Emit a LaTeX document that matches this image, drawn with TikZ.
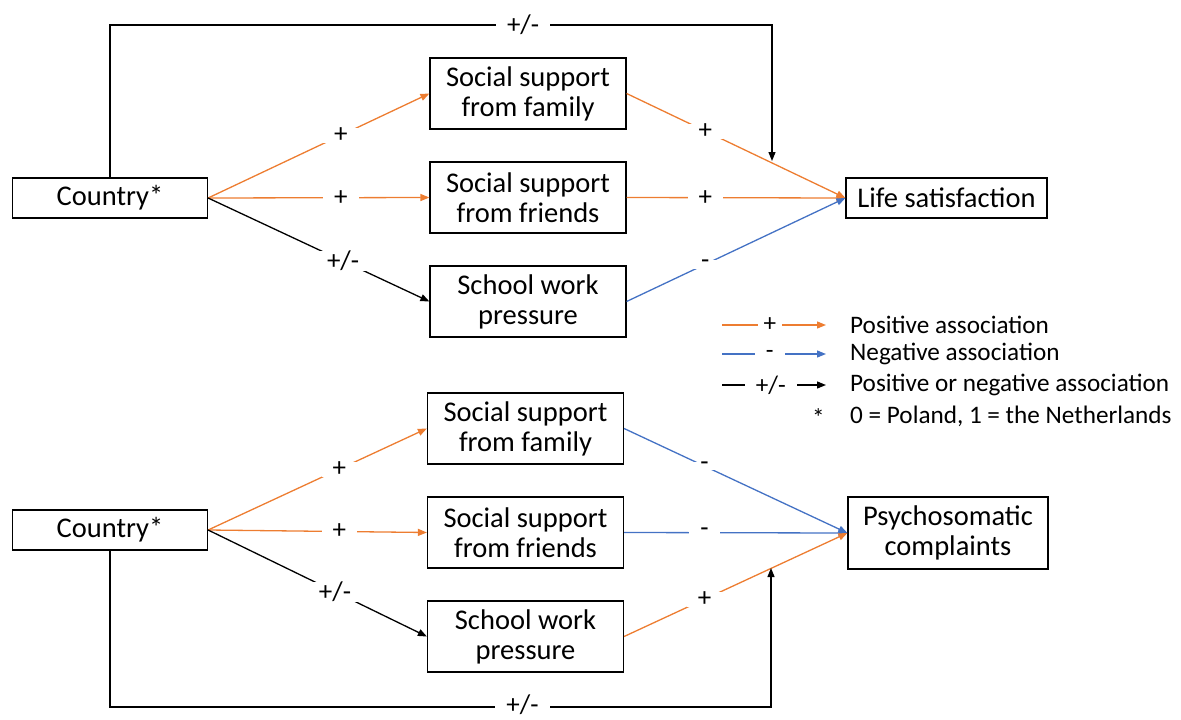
\documentclass[tikz,border=0pt]{standalone}
\usepackage{fontspec}
\setmainfont{Carlito}
\usetikzlibrary{arrows.meta}
\definecolor{ora}{HTML}{ED7D31}
\definecolor{blu}{HTML}{4472C4}
\begin{document}
\begin{tikzpicture}[x=1pt,y=-1pt,
 box/.style={draw=black, line width=1.2pt, minimum width=196pt, minimum height=71pt, align=center, inner sep=0pt, font=\fontsize{28.5}{30}\selectfont},
 sbox/.style={box, minimum height=40pt},
 arr/.style={line width=1.3pt, -{Triangle[length=9pt,width=7pt]}},
 lab/.style={fill=white, inner xsep=11pt, inner ysep=0pt, text=black, font=\fontsize{27}{30}\selectfont},
 txt/.style={anchor=west, inner sep=0pt, font=\fontsize{25.2}{30}\selectfont},
]
\useasboundingbox (0,0) rectangle (1181,720);
% top section
\node[sbox, minimum width=195pt] (c1) at (110,198) {Country*};
\node[box] (f1) at (528,93.5) {Social support\\from family};
\node[box] (r1) at (528,197.5) {Social support\\from friends};
\node[box] (p1) at (528,301.5) {School work\\pressure};
\node[sbox, minimum width=201pt] (l1) at (946.5,198) {Life satisfaction};
\coordinate (t1) at (772,161);

\draw[arr, ora] (c1.east) -- node[lab, pos=0.6]{+} (f1.west);
\draw[arr, ora] (c1.east) -- node[lab, pos=0.6]{+} (r1.west);
\draw[arr, black] (c1.east) -- node[lab, pos=0.61]{+/-} (p1.west);
\draw[arr, ora] (f1.east) -- node[lab, pos=0.36]{+} (l1.west);
\draw[arr, ora] (r1.east) -- node[lab, pos=0.36]{+} (l1.west);
\draw[arr, blu] (p1.east) -- node[lab, pos=0.36]{-} (l1.west);
\draw[arr, black] (c1.north) -- (c1.north |- 0,25) -- node[lab, pos=0.624]{+/-} (772,25) -- (t1);

% legend
\draw[arr, ora] (722,325) -- node[lab, pos=0.46, inner xsep=6pt, font=\fontsize{25.2}{30}\selectfont]{+} (826,325);
\draw[arr, blu] (722,354) -- node[lab, pos=0.46, inner xsep=11pt, font=\fontsize{25.2}{30}\selectfont]{-} (826,354);
\draw[arr, black] (722,385) -- node[lab, pos=0.47, inner xsep=11pt, font=\fontsize{25.2}{30}\selectfont]{+/-} (826,385);
\node[txt] (g1) at (850,325) {Positive association};
\node[txt] (g2) at (850,354) {Negative association};
\node[txt] (g3) at (850,385) {Positive or negative association};
\node[txt] (g4s) at (812,418) {*};
\node[txt] (g4) at (850,416) {0 = Poland, 1 = the Netherlands};

% bottom section
\node[sbox, minimum width=195pt] (c2) at (110,530) {Country*};
\node[box] (f2) at (525.5,428.5) {Social support\\from family};
\node[box] (r2) at (525.5,532.5) {Social support\\from friends};
\node[box] (p2) at (525.5,636.5) {School work\\pressure};
\node[box, minimum width=200pt, minimum height=72pt] (l2) at (948,533) {Psychosomatic\\complaints};
\coordinate (t2) at (771,568);

\draw[arr, ora] (c2.east) -- node[lab, pos=0.6]{+} (f2.west);
\draw[arr, ora] (c2.east) -- node[lab, pos=0.6]{+} (r2.west);
\draw[arr, black] (c2.east) -- node[lab, pos=0.58]{+/-} (p2.west);
\draw[arr, blu] (f2.east) -- node[lab, pos=0.36]{-} (l2.west);
\draw[arr, blu] (r2.east) -- node[lab, pos=0.36]{-} (l2.west);
\draw[arr, ora] (p2.east) -- node[lab, pos=0.36]{+} (l2.west);
\draw[arr, black] (c2.south) -- (c2.south |- 0,707) -- node[lab, pos=0.624, yshift=2pt]{+/-} (771,707) -- (t2);
\end{tikzpicture}
\end{document}
